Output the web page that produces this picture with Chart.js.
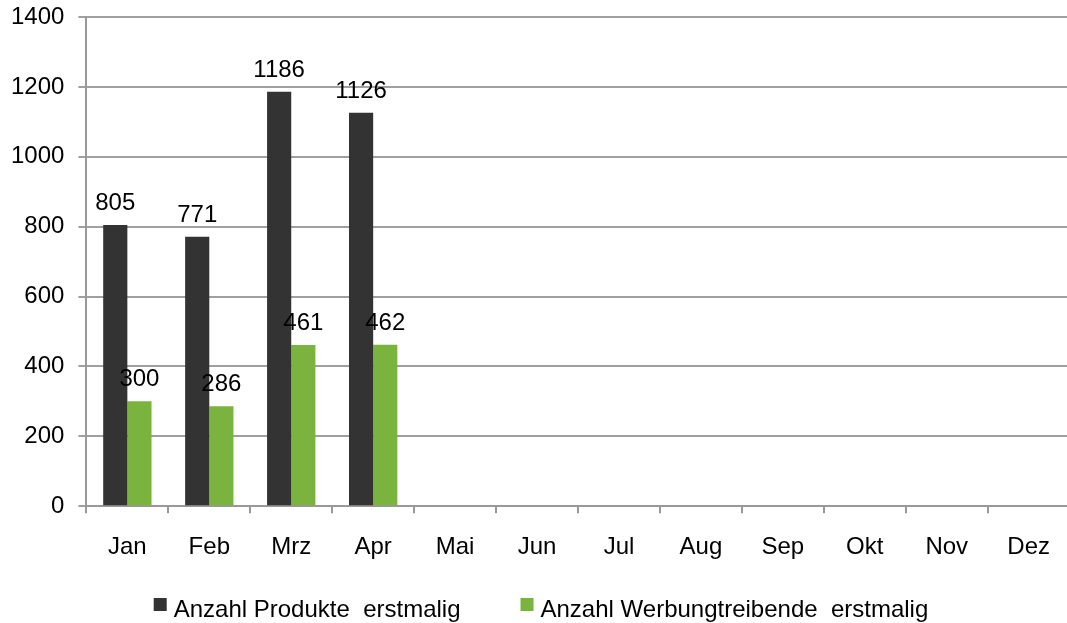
<!DOCTYPE html>
<html>
<head>
<meta charset="utf-8">
<script src="https://cdn.jsdelivr.net/npm/chart.js@4/dist/chart.umd.min.js"></script>
<style>
  html, body { margin: 0; padding: 0; background: #fff; overflow: hidden; }
  /* plot runs a few px past the right edge, as in the original */
  #wrap { width: 1070px; height: 623px; }
</style>
</head>
<body>
<div id="wrap"><canvas id="c"></canvas></div>
<script>
const months = ['Jan', 'Feb', 'Mrz', 'Apr', 'Mai', 'Jun', 'Jul', 'Aug', 'Sep', 'Okt', 'Nov', 'Dez'];
const produkte = [805, 771, 1186, 1126, null, null, null, null, null, null, null, null];
const werbung = [300, 286, 461, 462, null, null, null, null, null, null, null, null];
const yTicks = [0, 200, 400, 600, 800, 1000, 1200, 1400];

const FONT = 'Liberation Sans, Arial, sans-serif';
const SIZE = 24;

// values above the bars
const valueLabels = {
  id: 'valueLabels',
  afterDatasetsDraw(chart) {
    const ctx = chart.ctx;
    ctx.save();
    ctx.font = SIZE + 'px ' + FONT;
    ctx.fillStyle = '#000';
    ctx.textAlign = 'center';
    ctx.textBaseline = 'alphabetic';
    chart.data.datasets.forEach((ds, i) => {
      chart.getDatasetMeta(i).data.forEach((bar, j) => {
        if (ds.data[j] == null) return;
        ctx.fillText(String(ds.data[j]), bar.x, bar.y - 15);
      });
    });
    ctx.restore();
  }
};

// legend drawn by hand, the built-in one puts its padding on every side
const bottomLegend = {
  id: 'bottomLegend',
  afterDraw(chart) {
    const ctx = chart.ctx;
    const box = 13, gap = 7, spacing = 60;
    ctx.save();
    ctx.font = SIZE + 'px ' + FONT;
    ctx.textBaseline = 'alphabetic';
    ctx.textAlign = 'left';
    const items = chart.data.datasets.map((ds) => ({ ds, w: ctx.measureText(ds.label).width }));
    const total = items.reduce((s, it) => s + box + gap + it.w, 0) + spacing * (items.length - 1);
    let x = chart.width / 2 - total / 2 + 6;
    const base = chart.height - 6;
    items.forEach((it) => {
      ctx.fillStyle = it.ds.backgroundColor;
      ctx.fillRect(x, base - 19, box, box);
      x += box + gap;
      ctx.fillStyle = '#000';
      ctx.fillText(it.ds.label, x, base);
      x += it.w + spacing;
    });
    ctx.restore();
  }
};

new Chart(document.getElementById('c'), {
  type: 'bar',
  data: {
    labels: months,
    datasets: [
      { label: 'Anzahl Produkte  erstmalig', data: produkte, backgroundColor: '#333333' },
      { label: 'Anzahl Werbungtreibende  erstmalig', data: werbung, backgroundColor: '#7AB33E' },
    ],
  },
  options: {
    responsive: true,
    maintainAspectRatio: false,
    animation: false,
    categoryPercentage: 0.59,
    barPercentage: 1,
    layout: { padding: { top: 0, right: 0, left: -3, bottom: 41 } },
    plugins: {
      tooltip: { enabled: false },
      legend: { display: false },
    },
    scales: {
      x: {
        grid: { display: true, drawOnChartArea: false, drawTicks: true, tickLength: 7, color: '#999', lineWidth: 2, offset: true },
        border: { display: true, color: '#999', width: 2 },
        ticks: { color: '#000', font: { family: FONT, size: SIZE }, padding: 20 },
      },
      y: {
        min: 0, max: 1400,
        afterBuildTicks: (axis) => { axis.ticks = yTicks.map((v) => ({ value: v })); },
        grid: { color: '#a0a0a0', lineWidth: 2, tickLength: 8 },
        border: { display: true, color: '#999', width: 2 },
        ticks: { color: '#000', font: { family: FONT, size: SIZE, lineHeight: 0.25 }, padding: 14, callback: (v) => String(v) },
      },
    },
  },
  plugins: [valueLabels, bottomLegend],
});
</script>
</body>
</html>
